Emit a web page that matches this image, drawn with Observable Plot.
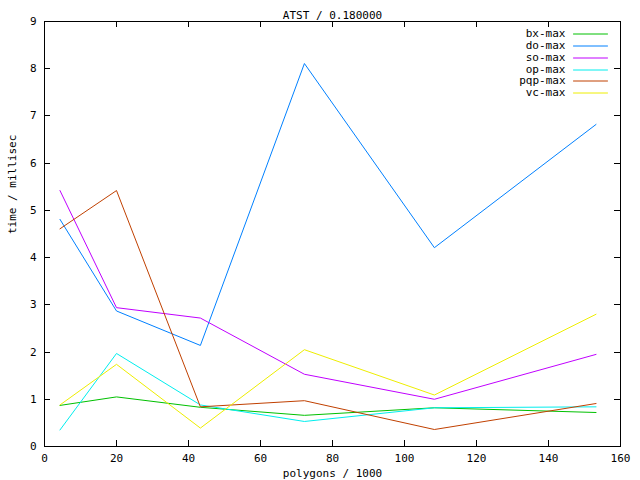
<!DOCTYPE html>
<html>
<head>
<meta charset="utf-8">
<script src="https://cdn.jsdelivr.net/npm/d3@7"></script>
<script src="https://cdn.jsdelivr.net/npm/@observablehq/plot@0.6"></script>
<style>
  html, body { margin: 0; padding: 0; background: #fff; }
  #chart svg { font-family: 'DejaVu Sans Mono', monospace; font-size: 11px; color: #000; background: #fff; }
</style>
</head>
<body>
<div id="chart"></div>
<script>
const title = "ATST / 0.180000";
const xLabel = "polygons / 1000";
const yLabel = "time / millisec";
const series = ["bx-max", "do-max", "so-max", "op-max", "pqp-max", "vc-max"];
const colors = ["#00c000", "#0080ff", "#c000ff", "#00eeee", "#c04000", "#eeee00"];
const polygons = [4.3, 20, 43.3, 72.2, 108.3, 153.2];
const bxMax = [0.87, 1.05, 0.83, 0.66, 0.82, 0.72];
const doMax = [4.81, 2.87, 2.14, 8.11, 4.21, 6.82];
const soMax = [5.42, 2.94, 2.72, 1.53, 1.0, 1.95];
const opMax = [0.35, 1.97, 0.88, 0.53, 0.82, 0.84];
const pqpMax = [4.61, 5.42, 0.84, 0.97, 0.36, 0.91];
const vcMax = [0.88, 1.74, 0.39, 2.05, 1.09, 2.80];
const xTicks = [0, 20, 40, 60, 80, 100, 120, 140, 160];
const yTicks = [0, 1, 2, 3, 4, 5, 6, 7, 8, 9];

const W = 640, H = 480, ML = 44, MR = 20, MT = 21, MB = 34;
const FW = W - ML - MR, FH = H - MT - MB, TICK = 6;

const valuesBySeries = [bxMax, doMax, soMax, opMax, pqpMax, vcMax];
const rows = [];
series.forEach((s, i) => valuesBySeries[i].forEach((v, j) => rows.push({series: s, x: polygons[j], y: v})));

const lineShape = {draw(ctx, l) { ctx.moveTo(0, 0); ctx.lineTo(0, -l); }};

const legendMarks = [];
series.forEach((s, i) => {
  const dy = Math.round(11.8 + i * 11.9);
  legendMarks.push(Plot.text([s], {frameAnchor: "top-right", dx: -55, dy, textAnchor: "end", lineAnchor: "middle", fill: "#000"}));
  legendMarks.push(Plot.vector([s], {frameAnchor: "top-right", dx: -13, dy: dy + 0.5, rotate: -90, length: 34, anchor: "start", shape: lineShape, stroke: colors[i], strokeWidth: 1}));
});

const chart = Plot.plot({
  width: W,
  height: H,
  marginLeft: ML,
  marginRight: MR,
  marginTop: MT,
  marginBottom: MB,
  x: {domain: [0, 160], axis: null},
  y: {domain: [0, 9], axis: null},
  color: {domain: series, range: colors},
  marks: [
    Plot.text(xTicks, {x: (d) => d, text: (d) => String(d), frameAnchor: "bottom", dy: 12, lineAnchor: "middle", fill: "#000"}),
    Plot.text(yTicks, {y: (d) => d, text: (d) => String(d), frameAnchor: "left", dx: -8, textAnchor: "end", lineAnchor: "middle", fill: "#000"}),
    Plot.line(rows, {x: "x", y: "y", z: "series", stroke: "series", strokeWidth: 1}),
    Plot.frame({stroke: "#000", strokeWidth: 1}),
    ...legendMarks,
    Plot.text([title], {frameAnchor: "top", dy: -6, lineAnchor: "middle", fill: "#000"}),
    Plot.text([xLabel], {frameAnchor: "bottom", dy: 27, lineAnchor: "middle", fill: "#000"}),
    Plot.text([yLabel], {frameAnchor: "left", dx: -32, rotate: -90, lineAnchor: "middle", fill: "#000"})
  ]
});

// Inward tick marks on all four sides, positioned with Plot's own scales.
const sx = chart.scale("x");
const sy = chart.scale("y");
const g = d3.select(chart).append("g").attr("aria-label", "ticks").attr("stroke", "#000").attr("stroke-width", 1).attr("fill", "none");
xTicks.forEach((t) => {
  const px = Math.round(sx.apply(t)) + 0.5;
  g.append("line").attr("x1", px).attr("x2", px).attr("y1", H - MB).attr("y2", H - MB - TICK);
  g.append("line").attr("x1", px).attr("x2", px).attr("y1", MT).attr("y2", MT + TICK);
});
yTicks.forEach((t) => {
  const py = Math.round(sy.apply(t)) + 0.5;
  g.append("line").attr("x1", ML).attr("x2", ML + TICK).attr("y1", py).attr("y2", py);
  g.append("line").attr("x1", W - MR).attr("x2", W - MR - TICK).attr("y1", py).attr("y2", py);
});

document.getElementById("chart").appendChild(chart);
</script>
</body>
</html>
